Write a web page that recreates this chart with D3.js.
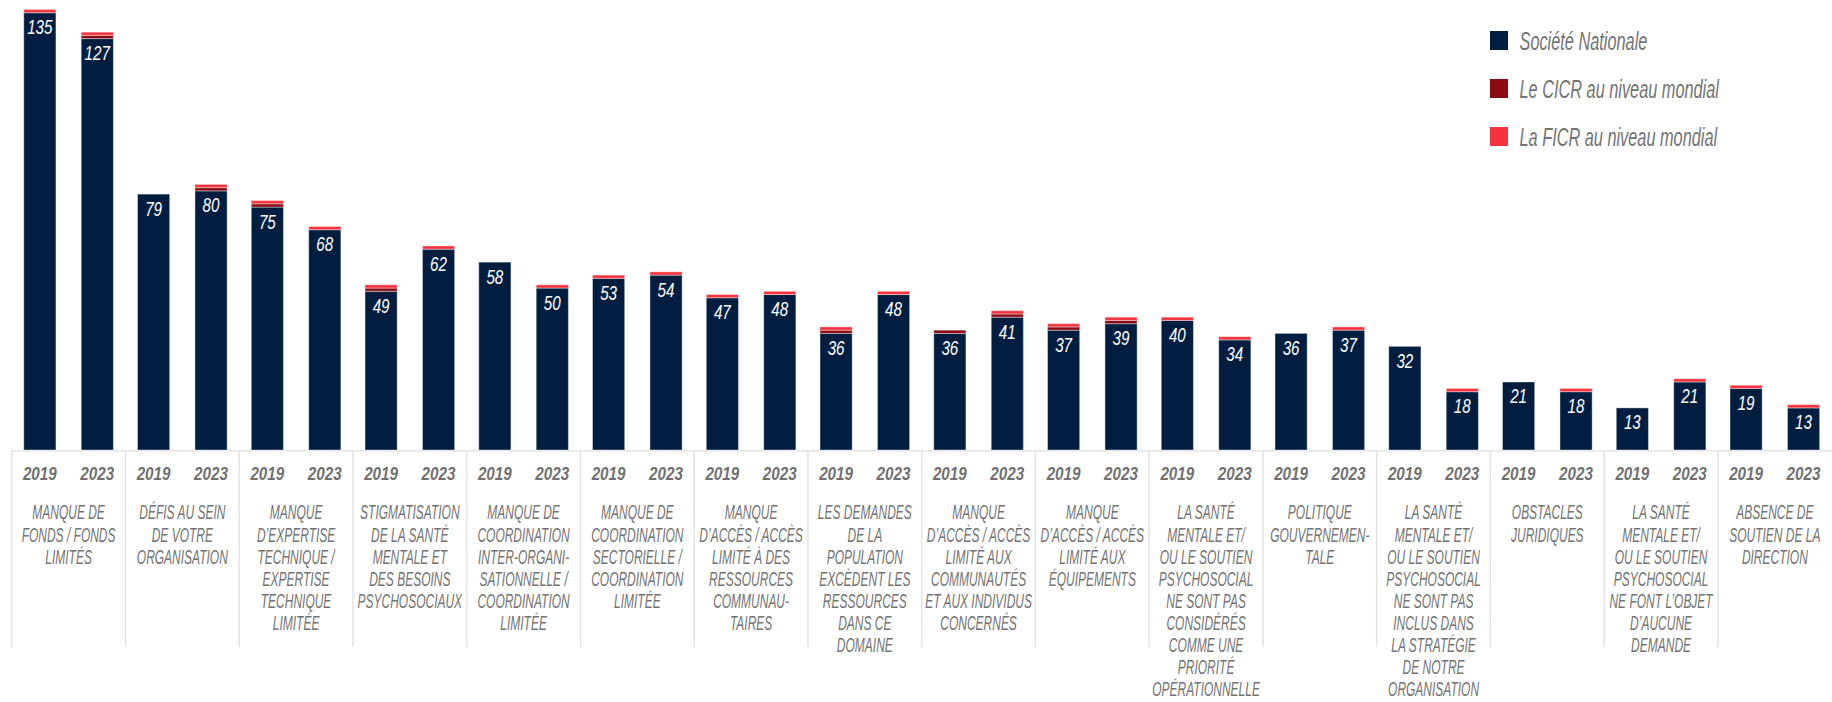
<!DOCTYPE html>
<html lang="fr">
<head>
<meta charset="utf-8">
<title>Obstacles à la santé mentale et au soutien psychosocial</title>
<script src="https://cdn.jsdelivr.net/npm/d3@7"></script>
<style>
  html, body { margin: 0; padding: 0; background: #fff; }
  svg { display: block; }
  text { font-family: "Liberation Sans", Arial, sans-serif; font-style: italic; }
</style>
</head>
<body>
<svg id="chart" width="1832" height="702"></svg>
<script>
// Category labels, one array of lines per group
const categoryLines = [
  ["MANQUE DE", "FONDS / FONDS", "LIMITÉS"],
  ["DÉFIS AU SEIN", "DE VOTRE", "ORGANISATION"],
  ["MANQUE", "D’EXPERTISE", "TECHNIQUE /", "EXPERTISE", "TECHNIQUE", "LIMITÉE"],
  ["STIGMATISATION", "DE LA SANTÉ", "MENTALE ET", "DES BESOINS", "PSYCHOSOCIAUX"],
  ["MANQUE DE", "COORDINATION", "INTER-ORGANI-", "SATIONNELLE /", "COORDINATION", "LIMITÉE"],
  ["MANQUE DE", "COORDINATION", "SECTORIELLE /", "COORDINATION", "LIMITÉE"],
  ["MANQUE", "D’ACCÈS / ACCÈS", "LIMITÉ À DES", "RESSOURCES", "COMMUNAU-", "TAIRES"],
  ["LES DEMANDES", "DE LA", "POPULATION", "EXCÈDENT LES", "RESSOURCES", "DANS CE", "DOMAINE"],
  ["MANQUE", "D’ACCÈS / ACCÈS", "LIMITÉ AUX", "COMMUNAUTÉS", "ET AUX INDIVIDUS", "CONCERNÉS"],
  ["MANQUE", "D’ACCÈS / ACCÈS", "LIMITÉ AUX", "ÉQUIPEMENTS"],
  ["LA SANTÉ", "MENTALE ET/", "OU LE SOUTIEN", "PSYCHOSOCIAL", "NE SONT PAS", "CONSIDÉRÉS", "COMME UNE", "PRIORITÉ", "OPÉRATIONNELLE"],
  ["POLITIQUE", "GOUVERNEMEN-", "TALE"],
  ["LA SANTÉ", "MENTALE ET/", "OU LE SOUTIEN", "PSYCHOSOCIAL", "NE SONT PAS", "INCLUS DANS", "LA STRATÉGIE", "DE NOTRE", "ORGANISATION"],
  ["OBSTACLES", "JURIDIQUES"],
  ["LA SANTÉ", "MENTALE ET/", "OU LE SOUTIEN", "PSYCHOSOCIAL", "NE FONT L’OBJET", "D’AUCUNE", "DEMANDE"],
  ["ABSENCE DE", "SOUTIEN DE LA", "DIRECTION"]
];

const years = ["2019", "2023"];

// Société Nationale
const national2019 = [135, 79, 75, 49, 58, 53, 47, 36, 36, 37, 40, 36, 32, 21, 13, 19];
const national2023 = [127, 80, 68, 62, 50, 54, 48, 48, 41, 39, 34, 37, 18, 18, 21, 13];
// Le CICR au niveau mondial
const icrc2019 = [0, 0, 1, 1, 0, 0, 0, 1, 1, 1, 0, 0, 0, 0, 0, 0];
const icrc2023 = [1, 1, 0, 0, 0, 0, 0, 0, 1, 1, 0, 0, 0, 0, 0, 0];
// La FICR au niveau mondial
const ifrc2019 = [1, 0, 1, 1, 0, 1, 1, 1, 0, 1, 1, 0, 0, 0, 0, 1];
const ifrc2023 = [1, 1, 1, 1, 1, 1, 1, 1, 1, 1, 1, 1, 1, 1, 1, 1];

const seriesNames = ["Société Nationale", "Le CICR au niveau mondial", "La FICR au niveau mondial"];
const seriesKeys = ["national", "icrc", "ifrc"];
const seriesColors = ["#011e41", "#8b0b15", "#f4333f"];

// Flat table: one row per category and year
const rows = [];
categoryLines.forEach((lines, i) => {
  rows.push({ cat: i, year: "2019", national: national2019[i], icrc: icrc2019[i], ifrc: ifrc2019[i] });
  rows.push({ cat: i, year: "2023", national: national2023[i], icrc: icrc2023[i], ifrc: ifrc2023[i] });
});

const svg = d3.select("#chart");
const baseY = 450;
const textGrey = "#737373";
const rule = "#e4e4e4";

const x0 = d3.scaleBand()
  .domain(d3.range(categoryLines.length))
  .range([11.7, 1831.7])
  .paddingInner(0)
  .paddingOuter(0);

const x1 = d3.scaleBand()
  .domain(years)
  .range([0, x0.bandwidth()])
  .paddingInner(0.44)
  .paddingOuter(0.21);

const y = d3.scaleLinear()
  .domain([0, 135])
  .range([baseY, 12.7]);

const stacked = d3.stack().keys(seriesKeys)(rows);
const color = d3.scaleOrdinal().domain(seriesKeys).range(seriesColors);

// Group separators and base rule
const gridG = svg.append("g");
gridG.append("line")
  .attr("x1", x0.range()[0]).attr("x2", 1832)
  .attr("y1", baseY + 0.8).attr("y2", baseY + 0.8)
  .attr("stroke", rule).attr("stroke-width", 1.6);
gridG.selectAll("line.sep")
  .data(x0.domain())
  .join("line")
  .attr("class", "sep")
  .attr("x1", d => x0(d)).attr("x2", d => x0(d))
  .attr("y1", baseY).attr("y2", 647)
  .attr("stroke", rule).attr("stroke-width", 1.6);

// Stacked bars
svg.append("g")
  .selectAll("g")
  .data(stacked)
  .join("g")
  .attr("fill", d => color(d.key))
  .selectAll("rect")
  .data(d => d.filter(s => s[1] > s[0]))
  .join("rect")
  .attr("x", d => x0(d.data.cat) + x1(d.data.year))
  .attr("width", x1.bandwidth())
  .attr("y", d => y(d[1]))
  .attr("height", d => y(d[0]) - y(d[1]))
  .attr("stroke", "#ffffff")
  .attr("stroke-opacity", 0.4)
  .attr("stroke-width", 1);

// Value labels inside the national segment
svg.append("g")
  .selectAll("text")
  .data(rows)
  .join("text")
  .attr("transform", d => `translate(${x0(d.cat) + x1(d.year) + x1.bandwidth() / 2},${y(d.national) + 21.5}) scale(0.78,1)`)
  .attr("text-anchor", "middle")
  .attr("fill", "#ffffff")
  .attr("font-size", 19.5)
  .text(d => d.national);

// Year ticks
svg.append("g")
  .selectAll("text")
  .data(rows)
  .join("text")
  .attr("transform", d => `translate(${x0(d.cat) + x1(d.year) + x1.bandwidth() / 2},480) scale(0.82,1)`)
  .attr("text-anchor", "middle")
  .attr("fill", "#707070")
  .attr("font-weight", "bold")
  .attr("font-size", 18.6)
  .text(d => d.year);

// Category labels
const catG = svg.append("g")
  .selectAll("g")
  .data(categoryLines)
  .join("g")
  .attr("transform", (d, i) => `translate(${x0(i) + x0.bandwidth() / 2},0) scale(0.585,1)`);
catG.selectAll("text")
  .data(d => d)
  .join("text")
  .attr("x", 0)
  .attr("y", (d, j) => 519.5 + j * 22.1)
  .attr("text-anchor", "middle")
  .attr("fill", textGrey)
  .attr("font-size", 20.5)
  .text(d => d);

// Legend
const legend = svg.append("g")
  .selectAll("g")
  .data(seriesNames)
  .join("g")
  .attr("transform", (d, i) => `translate(1490,${31 + i * 48})`);
legend.append("rect")
  .attr("width", 18).attr("height", 19)
  .attr("fill", (d, i) => seriesColors[i]);
legend.append("text")
  .attr("transform", "translate(29.5,19) scale(0.64,1)")
  .attr("fill", "#737373")
  .attr("font-size", 25.5)
  .text(d => d);
</script>
</body>
</html>
